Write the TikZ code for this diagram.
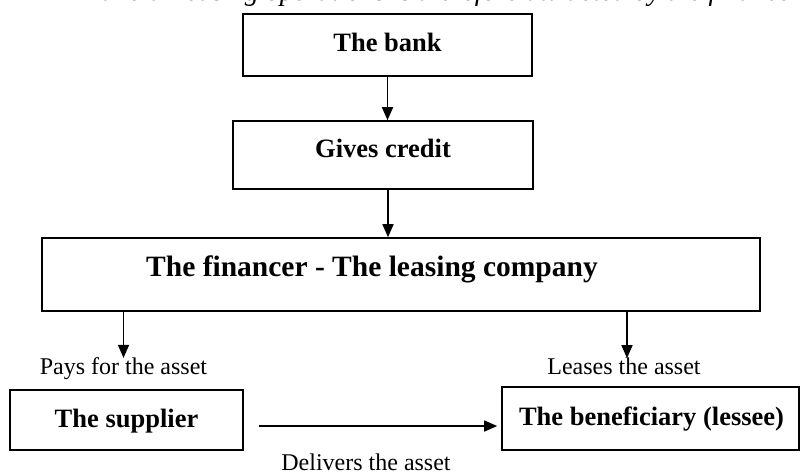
\documentclass[tikz,border=0pt]{standalone}
\usepackage{fontspec}
\setmainfont{Liberation Serif}
\usetikzlibrary{arrows.meta}

\tikzset{
  box/.style={draw, line width=1.6pt, inner sep=0pt},
  boxtext/.style={font=\fontsize{26.5}{30}\selectfont\bfseries, inner sep=0pt, anchor=base},
  bigtext/.style={font=\fontsize{29.5}{34}\selectfont\bfseries, inner sep=0pt, anchor=base},
  plain/.style={font=\fontsize{24}{28}\selectfont, inner sep=0pt, anchor=base},
  headline/.style={font=\fontsize{28}{32}\selectfont\itshape, inner sep=0pt, anchor=base west},
  flow/.style={line width=1.5pt, -{Triangle[width=11pt,length=13pt]}},
}

\begin{document}
\begin{tikzpicture}[x=1pt, y=-1pt]
\path[use as bounding box] (0,0) rectangle (800,475);

% running text of the page above the chart (only its lower edge shows)
\node[headline] (head) at (62,0.5) {Financial leasing operations is therefore attracted by the financer};

% boxes
\node[box, minimum width=289pt, minimum height=62pt] (bank) at (387.5,45) {};
\node[boxtext] (banktxt) at (387.5,51) {The bank};

\node[box, minimum width=300pt, minimum height=68pt] (credit) at (383,155) {};
\node[boxtext] (credittxt) at (383,157) {Gives credit};

\node[box, minimum width=718pt, minimum height=73pt] (fin) at (401,274.5) {};
\node[bigtext] (fintxt) at (372,276) {The financer - The leasing company};

\node[box, minimum width=233pt, minimum height=60pt] (sup) at (126.5,420) {};
\node[boxtext] (suptxt) at (126.5,427) {The supplier};

\node[box, minimum width=297pt, minimum height=63pt] (ben) at (650.5,418.5) {};
\node[boxtext] (bentxt) at (651.5,425) {The beneficiary (lessee)};

% flow labels
\node[plain] (pays) at (123.5,374) {Pays for the asset};
\node[plain] (leases) at (624,374) {Leases the asset};
\node[plain] (delivers) at (366,470) {Delivers the asset};

% connectors
\draw[flow] (bank.south) -- (bank.south |- credit.north);
\draw[flow] ([xshift=5pt]credit.south) -- ([xshift=5pt]credit.south |- fin.north);
\draw[flow] (fin.south -| pays.north) -- ([yshift=-1pt]pays.north);
\draw[flow] (fin.south -| 627,0) -- ([yshift=-1pt]leases.north -| 627,0);
\draw[flow] ([shift={(15pt,-6pt)}]sup.east) -- ([shift={(-4pt,-6pt)}]sup.east -| ben.west);
\end{tikzpicture}
\end{document}
